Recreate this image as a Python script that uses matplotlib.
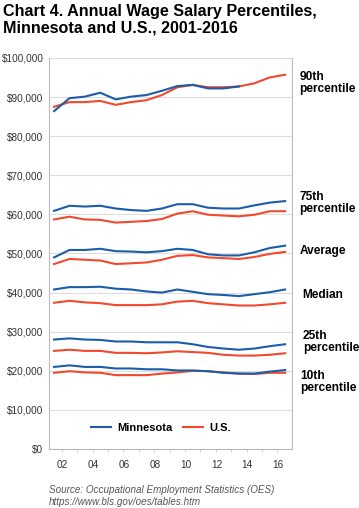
#!/usr/bin/env python3
"""Chart 4: annual wage salary percentiles, Minnesota vs U.S."""
import matplotlib
matplotlib.use("Agg")
import matplotlib.pyplot as plt

years = list(range(2001, 2017))
tick_years = [2002, 2004, 2006, 2008, 2010, 2012, 2014, 2016]
tick_labels = ["02", "04", "06", "08", "10", "12", "14", "16"]

# values in dollars
mn_p90 = [86400, 89700, 90100, 91100, 89400, 90100, 90500, 91600, 92800, 93100,
          92200, 92200, 92700]  # line stops at 2013
us_p90 = [87500, 88700, 88700, 89000, 88000, 88700, 89200, 90500, 92500, 93100,
          92500, 92500, 92700, 93500, 95000, 95700]
mn_p75 = [60900, 62200, 62000, 62200, 61500, 61100, 60900, 61500, 62600, 62600,
          61700, 61500, 61500, 62300, 63000, 63400]
us_p75 = [58700, 59400, 58700, 58600, 57900, 58100, 58300, 58800, 60200, 60800,
          59900, 59700, 59500, 59900, 60800, 60800]
mn_avg = [49000, 50900, 50900, 51200, 50600, 50500, 50300, 50600, 51200, 50900,
          49800, 49500, 49500, 50300, 51400, 52000]
us_avg = [47300, 48600, 48400, 48200, 47300, 47500, 47700, 48400, 49400, 49600,
          49000, 48800, 48600, 49100, 49900, 50400]
mn_median = [40800, 41400, 41400, 41500, 41000, 40800, 40300, 40000, 40800, 40200,
             39600, 39400, 39100, 39600, 40100, 40800]
us_median = [37400, 37900, 37500, 37300, 36800, 36800, 36800, 37000, 37700, 37900,
             37300, 37000, 36700, 36700, 37000, 37400]
mn_p25 = [28000, 28300, 28000, 27900, 27500, 27500, 27300, 27300, 27300, 26800,
          26100, 25700, 25400, 25700, 26300, 26800]
us_p25 = [25100, 25400, 25100, 25100, 24600, 24600, 24500, 24700, 25000, 24800,
          24600, 24100, 23900, 23900, 24100, 24500]
mn_p10 = [21000, 21400, 21000, 21000, 20600, 20600, 20400, 20400, 20100, 20100,
          19900, 19500, 19300, 19300, 19800, 20200]
us_p10 = [19500, 19900, 19600, 19500, 18900, 18900, 18900, 19300, 19600, 20000,
          19900, 19600, 19300, 19200, 19500, 19500]

series_labels = ["90th\npercentile", "75th\npercentile", "Average", "Median",
                 "25th\npercentile", "10th\npercentile"]
label_values = [93700, 62900, 50700, 39400, 27300, 17200]
label_x = [1.03, 1.03, 1.033, 1.044, 1.044, 1.033]

MN_COLOR = "#1b5da8"
US_COLOR = "#f1492c"

plt.rcParams["font.family"] = ["Liberation Sans", "DejaVu Sans"]

fig = plt.figure(figsize=(3.59, 5.08), dpi=100)
ax = fig.add_axes([0.1365, 0.116, 0.677, 0.770])

mn_all = [mn_p90, mn_p75, mn_avg, mn_median, mn_p25, mn_p10]
us_all = [us_p90, us_p75, us_avg, us_median, us_p25, us_p10]
for i, (mn, us) in enumerate(zip(mn_all, us_all)):
    ax.plot(years[:len(us)], us, color=US_COLOR, lw=1.5,
            label="U.S." if i == 0 else None, zorder=3)
    ax.plot(years[:len(mn)], mn, color=MN_COLOR, lw=1.5,
            label="Minnesota" if i == 0 else None, zorder=4)

ax.set_xlim(2000.67, 2016.45)
ax.set_ylim(0, 100000)
ax.set_yticks(range(0, 100001, 10000))
ax.set_yticklabels([f"${v:,}" for v in range(0, 100001, 10000)])
ax.set_xticks([y - 0.45 for y in tick_years])
ax.set_xticklabels(tick_labels)
ax.set_xticks([y + 0.5 for y in years[:-1]], minor=True)
ax.tick_params(axis="y", length=0, labelsize=7.2, labelcolor="#333333", pad=4)
ax.tick_params(axis="x", which="major", length=0, labelsize=7.2,
               labelcolor="#333333", pad=8)
ax.tick_params(axis="x", which="minor", length=2, color="#cccccc")

ax.grid(axis="y", color="#dddddd", lw=0.8)
ax.set_axisbelow(True)
ax.spines["top"].set_visible(False)
for side in ["left", "right", "bottom"]:
    ax.spines[side].set_color("#bbbbbb")
    ax.spines[side].set_linewidth(0.8)

# legend inside the plot, at the bottom
handles, labels = ax.get_legend_handles_labels()
leg = ax.legend(handles[::-1], labels[::-1], loc="center",
                bbox_to_anchor=(0.46, 0.054), ncol=2, frameon=False,
                prop={"weight": "bold", "size": 8}, handlelength=1.8,
                columnspacing=1.0, handletextpad=0.55)

# series names to the right of the plot
for text, val, x in zip(series_labels, label_values, label_x):
    ax.text(x, val, text, transform=ax.get_yaxis_transform(),
            fontsize=8.6, fontweight="bold", va="center", ha="left",
            linespacing=1.0)

fig.text(0.008, 0.992, "Chart 4. Annual Wage Salary Percentiles,\nMinnesota and U.S., 2001-2016",
         fontsize=11.6, fontweight="bold", va="top", ha="left", linespacing=1.12)

fig.text(0.136, 0.0445, "Source: Occupational Employment Statistics (OES)\nhttps://www.bls.gov/oes/tables.htm",
         fontsize=7.1, style="italic", color="#555555", va="top", ha="left",
         linespacing=1.15)

fig.savefig("out.png", dpi=100)
